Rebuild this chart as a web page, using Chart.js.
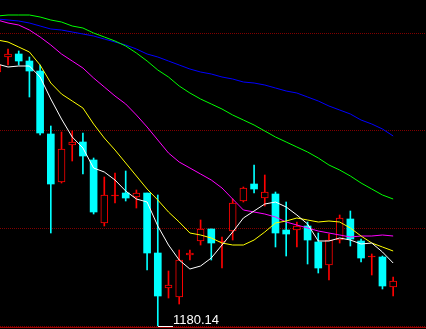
<!DOCTYPE html>
<html>
<head>
<meta charset="utf-8">
<script src="https://cdn.jsdelivr.net/npm/chart.js@4.4.1/dist/chart.umd.min.js"></script>
<style>
  html, body { margin: 0; padding: 0; background: #000; }
  #wrap { width: 426px; height: 329px; }
</style>
</head>
<body>
<div id="wrap"><canvas id="chart" width="426" height="329"></canvas></div>
<script>
// daily candles, oldest first (first one is cut by the left edge)
const opens  = [1434, 1449, 1452, 1445, 1435, 1372, 1324, 1361, 1364, 1346, 1283, 1310, 1313, 1309, 1313, 1253, 1218, 1209, 1251, 1265, 1277, 1264, 1275, 1305, 1322, 1308, 1312, 1276, 1276, 1280, 1264, 1241, 1266, 1287, 1265, 1249, 1249, 1219];
const highs  = [1443, 1457, 1455, 1449, 1441, 1380, 1374, 1375, 1373, 1348, 1329, 1333, 1335, 1316, 1313, 1311, 1235, 1256, 1256, 1286, 1277, 1269, 1307, 1319, 1341, 1331, 1314, 1304, 1284, 1284, 1273, 1272, 1291, 1295, 1267, 1252, 1250, 1229];
const lows   = [1432, 1441, 1441, 1409, 1371, 1273, 1323, 1345, 1332, 1292, 1280, 1303, 1305, 1298, 1236, 1180.14, 1208, 1202, 1246, 1261, 1246, 1238, 1266, 1304, 1313, 1300, 1259, 1250, 1259, 1242, 1233, 1226, 1263, 1260, 1244, 1231, 1217, 1210];
const closes = [1441, 1452, 1445, 1435, 1373, 1322, 1357, 1364, 1350, 1294, 1311, 1311, 1308, 1313, 1253, 1210, 1221, 1246, 1253, 1277, 1263, 1265, 1303, 1318, 1317, 1314, 1273, 1272, 1280, 1266, 1238, 1266, 1288, 1267, 1248, 1249, 1220, 1225];

// moving averages
const ma5  = [1442, 1439, 1440, 1440, 1429, 1407, 1387, 1369, 1358, 1338, 1334, 1326, 1315, 1307, 1304, 1280, 1261, 1246, 1237, 1240, 1248, 1261, 1274, 1288, 1295, 1302, 1304, 1299, 1291, 1282, 1265, 1265, 1268, 1266, 1262, 1263, 1254, 1243];
const ma10 = [1466, 1464, 1459, 1454, 1441, 1423, 1412, 1405, 1398, 1382, 1368, 1356, 1343, 1330, 1317, 1306, 1294, 1284, 1273, 1271, 1268, 1263, 1261, 1261, 1266, 1274, 1283, 1285, 1288, 1286, 1284, 1285, 1284, 1278, 1270, 1263, 1259, 1255];
const ma20 = [1486, 1483, 1481, 1476, 1469, 1461, 1452, 1445, 1438, 1428, 1419, 1410, 1402, 1391, 1379, 1366, 1353, 1344, 1338, 1332, 1326, 1318, 1307, 1296, 1294, 1292, 1289, 1284, 1281, 1278, 1275, 1273, 1271, 1269, 1270, 1270, 1271, 1270];
const ma30 = [1490, 1491, 1491, 1491, 1489, 1486, 1484, 1480, 1478, 1473, 1469, 1465, 1460, 1453, 1445, 1436, 1429, 1420, 1413, 1407, 1402, 1397, 1391, 1386, 1381, 1375, 1369, 1364, 1359, 1354, 1348, 1341, 1336, 1330, 1323, 1317, 1311, 1307];
const ma60 = [1487, 1486, 1485, 1483, 1480, 1477, 1476, 1474, 1472, 1470, 1467, 1464, 1461, 1457, 1452, 1449, 1445, 1441, 1437, 1434, 1432, 1429, 1427, 1424, 1423, 1421, 1418, 1415, 1413, 1409, 1405, 1400, 1396, 1392, 1386, 1382, 1377, 1370];

const gridLevels = [1473, 1376, 1278, 1180.14];
const lowLabel = "1180.14";

const UP = "#ff0000";
const DOWN = "#00ffff";

const days = opens.map((_, i) => i);
const isUp = i => closes[i] >= opens[i];

function maSet(values, color) {
  return {
    type: "line",
    data: days.map(i => ({ x: i, y: values[i] })),
    borderColor: color,
    borderWidth: 1,
    pointRadius: 0,
    tension: 0,
    order: 1
  };
}

const overlay = {
  id: "overlay",
  beforeDatasetsDraw(chart) {
    const { ctx, chartArea, scales: { y } } = chart;
    ctx.save();
    // dotted grid, one pixel on, one off
    ctx.fillStyle = "#800000";
    gridLevels.forEach(v => {
      const row = Math.round(y.getPixelForValue(v));
      for (let px = chartArea.left; px < chartArea.right; px += 2) {
        ctx.fillRect(px, row, 1, 1);
      }
    });
    ctx.fillStyle = "#a00000";
    ctx.fillRect(chartArea.left, chartArea.bottom - 2, chartArea.right - chartArea.left, 1);
    ctx.restore();
  },
  afterDatasetsDraw(chart) {
    const { ctx, scales: { x, y } } = chart;
    const lowest = Math.min(...lows);
    const idx = lows.indexOf(lowest);
    const px = Math.round(x.getPixelForValue(idx));
    const py = Math.round(y.getPixelForValue(lowest)) + 0.5;
    ctx.save();
    ctx.strokeStyle = "#ffffff";
    ctx.lineWidth = 1;
    ctx.beginPath();
    ctx.moveTo(px, py);
    ctx.lineTo(px + 15, py);
    ctx.stroke();
    ctx.fillStyle = "#ffffff";
    ctx.font = "13px 'Liberation Sans', Arial, sans-serif";
    ctx.textBaseline = "alphabetic";
    ctx.fillText(lowLabel, px + 15, py - 3);
    ctx.restore();
  }
};

new Chart(document.getElementById("chart"), {
  type: "bar",
  data: {
    datasets: [
      {
        data: days.map(i => ({ x: i, y: [lows[i], highs[i]] })),
        backgroundColor: days.map(i => (isUp(i) ? UP : DOWN)),
        barThickness: 1,
        grouped: false,
        order: 3
      },
      {
        data: days.map(i => {
          const lo = Math.min(opens[i], closes[i]);
          const hi = Math.max(opens[i], closes[i]);
          return { x: i, y: [lo, Math.max(hi, lo + 1)] };
        }),
        backgroundColor: days.map(i => {
          if (!isUp(i)) return DOWN;
          return Math.abs(closes[i] - opens[i]) < 2 ? UP : "#000000";
        }),
        borderColor: days.map(i => (isUp(i) ? UP : DOWN)),
        borderWidth: days.map(i => (isUp(i) ? 1 : 0)),
        borderSkipped: false,
        barThickness: 7,
        grouped: false,
        order: 2
      },
      maSet(ma5, "#ffffff"),
      maSet(ma10, "#ffff00"),
      maSet(ma20, "#ff00ff"),
      maSet(ma30, "#00ff00"),
      maSet(ma60, "#0000ff")
    ]
  },
  options: {
    responsive: false,
    animation: false,
    devicePixelRatio: 1,
    layout: { padding: 0 },
    plugins: {
      legend: { display: false },
      tooltip: { enabled: false }
    },
    scales: {
      x: { type: "linear", min: 0.25, max: 40.07, offset: false, display: false },
      y: { min: 1177, max: 1506, beginAtZero: false, display: false }
    }
  },
  plugins: [overlay]
});
</script>
</body>
</html>
